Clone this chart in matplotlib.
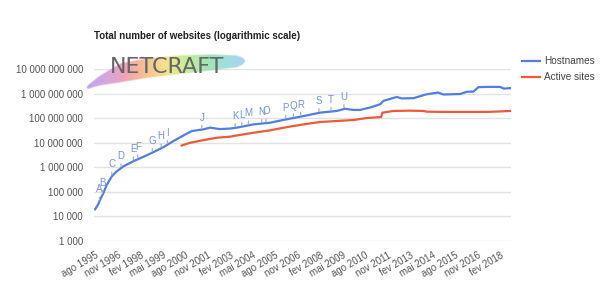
import numpy as np
import matplotlib
matplotlib.use('Agg')
import matplotlib.pyplot as plt
from matplotlib.colors import LinearSegmentedColormap

plt.rcParams['font.family'] = ['Liberation Sans', 'DejaVu Sans']

# data, x in decimal years, values in millions
host_year = [1995.58, 1995.75, 1995.86, 1996.04, 1996.23, 1996.51, 1996.79, 1997.15,
             1997.71, 1998.26, 1998.82, 1999.37, 1999.93, 2000.49, 2000.95, 2001.6,
             2001.97, 2002.5, 2003.08, 2003.45, 2004.37, 2005.3, 2006.23, 2007.15,
             2008.08, 2009.01, 2009.47, 2009.93, 2010.3, 2010.86, 2011.41, 2011.6,
             2012.34, 2012.62, 2013.27, 2014.0, 2014.65, 2014.93, 2015.86, 2016.23,
             2016.6, 2016.88, 2017.34, 2018.08, 2018.3, 2018.64]
host_m = [0.019, 0.030, 0.047, 0.087, 0.19, 0.42, 0.68, 1.07,
          1.74, 2.63, 4.07, 6.46, 11.5, 19.5, 29.5, 34.7,
          40.7, 35.5, 37.2, 40.7, 55.0, 64.6, 89.1, 120,
          166, 195, 240, 214, 214, 269, 363, 501,
          724, 631, 646, 933, 1096, 912, 955, 1175,
          1202, 1820, 1862, 1862, 1585, 1660]

active_year = [2000.39, 2000.86, 2001.6, 2002.34, 2003.08, 2003.45, 2004.37, 2005.3,
               2006.23, 2007.15, 2008.08, 2009.01, 2009.93, 2010.67, 2011.47, 2011.55,
               2012.16, 2013.08, 2013.82, 2014.0, 2014.93, 2015.86, 2017.34, 2018.08, 2018.64]
active_m = [7.6, 9.8, 12.6, 15.8, 17.4, 19.5, 25.1, 31.6,
            42.7, 55.0, 69.2, 75.9, 83.2, 100, 110, 166,
            195, 200, 195, 182, 178, 178, 178, 186, 195]

note_labels = list('ABCDEFGHIJKLMNOPQRSTU')
note_year = [1995.82, 1995.99, 1996.51, 1997.02, 1997.71, 1997.95, 1998.76, 1999.25,
             1999.6, 2001.51, 2003.36, 2003.73, 2004.1, 2004.84, 2005.08, 2006.17,
             2006.6, 2007.0, 2008.02, 2008.69, 2009.41]

tick_labels = ['ago 1995', 'nov 1996', 'fev 1998', 'mai 1999', 'ago 2000', 'nov 2001',
               'fev 2003', 'mai 2004', 'ago 2005', 'nov 2006', 'fev 2008', 'mai 2009',
               'ago 2010', 'nov 2011', 'fev 2013', 'mai 2014', 'ago 2015', 'nov 2016',
               'fev 2018']
tick_pos = [1995 + 7/12 + 1.25*i for i in range(len(tick_labels))]

W, H = 604, 294
fig = plt.figure(figsize=(W/100, H/100), dpi=100)
ax = fig.add_axes([94/W, 1 - 240.7/H, (511 - 94)/W, (240.7 - 69)/H])

blue = '#4f7fe0'
red = '#ec5a3a'
ax.plot(host_year, np.array(host_m)*1e6, color=blue, lw=1.6, label='Hostnames', zorder=3)
ax.plot(active_year, np.array(active_m)*1e6, color=red, lw=1.6, label='Active sites', zorder=3)

# letter annotations above the hostname line
logv = np.interp(note_year, host_year, np.log10(np.array(host_m)*1e6))
for lab, yr, lv in zip(note_labels, note_year, logv):
    ax.annotate(lab, xy=(yr, 10**lv), xytext=(0, 9), textcoords='offset pixels',
                ha='center', va='baseline', color='#7093e3', fontsize=7,
                arrowprops=dict(arrowstyle='-', color='#b0b0b0', lw=0.9,
                                shrinkA=0, shrinkB=1), zorder=4)

ax.set_yscale('log')
ax.set_ylim(1e3, 1e10)
ax.set_xlim(1995.52, 2018.69)
yt = [10**k for k in range(3, 11)]
ax.set_yticks(yt)
ax.set_yticklabels(['{:,}'.format(v).replace(',', ' ') for v in yt])
ax.yaxis.set_minor_locator(matplotlib.ticker.NullLocator())
ax.set_xticks(tick_pos)
ax.set_xticklabels(tick_labels, rotation=30, ha='right', va='top', rotation_mode='anchor')
ax.tick_params(axis='both', length=0, labelsize=7, labelcolor='#555555')
ax.tick_params(axis='y', pad=8)
ax.tick_params(axis='x', pad=7)
ax.grid(axis='y', color='#e3e3e3', lw=1)
for s in ax.spines.values():
    s.set_visible(False)

fig.text(94/W, 1 - 36/H, 'Total number of websites (logarithmic scale)',
         fontsize=7, fontweight='bold', color='#222222', va='center', ha='left')

leg = ax.legend(loc='upper left', bbox_to_anchor=(522/W, 1 - 56.5/H),
                bbox_transform=fig.transFigure, frameon=False, fontsize=7.2,
                handlelength=1.8, handletextpad=0.45, labelspacing=0.55,
                borderpad=0, borderaxespad=0)
for t in leg.get_texts():
    t.set_color('#444444')

# netcraft logo: pastel brush stroke + grey lettering
lx0, lx1, ly0, ly1 = 84, 250, 46, 94
gx = np.linspace(lx0, lx1, 500)
gy = np.linspace(ly0, ly1, 150)
GX, GY = np.meshgrid(gx, gy)
cx = [86, 88, 100, 120, 147, 180, 213, 237, 243, 246]
cy = [88, 87, 80.5, 73, 68, 64.7, 62.2, 61.3, 61, 61]
ht = [0, 2.5, 5.5, 10, 10.5, 10, 8.5, 6.5, 4, 0]
ccy = np.interp(GX, cx, cy)
cht = np.interp(GX, cx, ht)
alpha = np.clip((cht - np.abs(GY - ccy)) / 1.2, 0, 1) * 0.92
cmap = LinearSegmentedColormap.from_list('rb', ['#b69ce6', '#cf9fe0', '#f19ab0', '#f6bd86',
                                                '#f1e384', '#bfec96', '#98e3b0', '#98dbe0',
                                                '#a9c9f5'])
rgba = cmap((GX - lx0) / (lx1 - lx0))
rgba[..., 3] = alpha
lax = fig.add_axes([lx0/W, 1 - ly1/H, (lx1 - lx0)/W, (ly1 - ly0)/H])
lax.imshow(rgba, aspect='auto', interpolation='bilinear')
lax.axis('off')
fig.text(167.5/W, 1 - 67/H, 'NETCRAFT', fontsize=16, color='#666666',
         family='DejaVu Sans', ha='center', va='center')

fig.savefig('out.png', dpi=100)
